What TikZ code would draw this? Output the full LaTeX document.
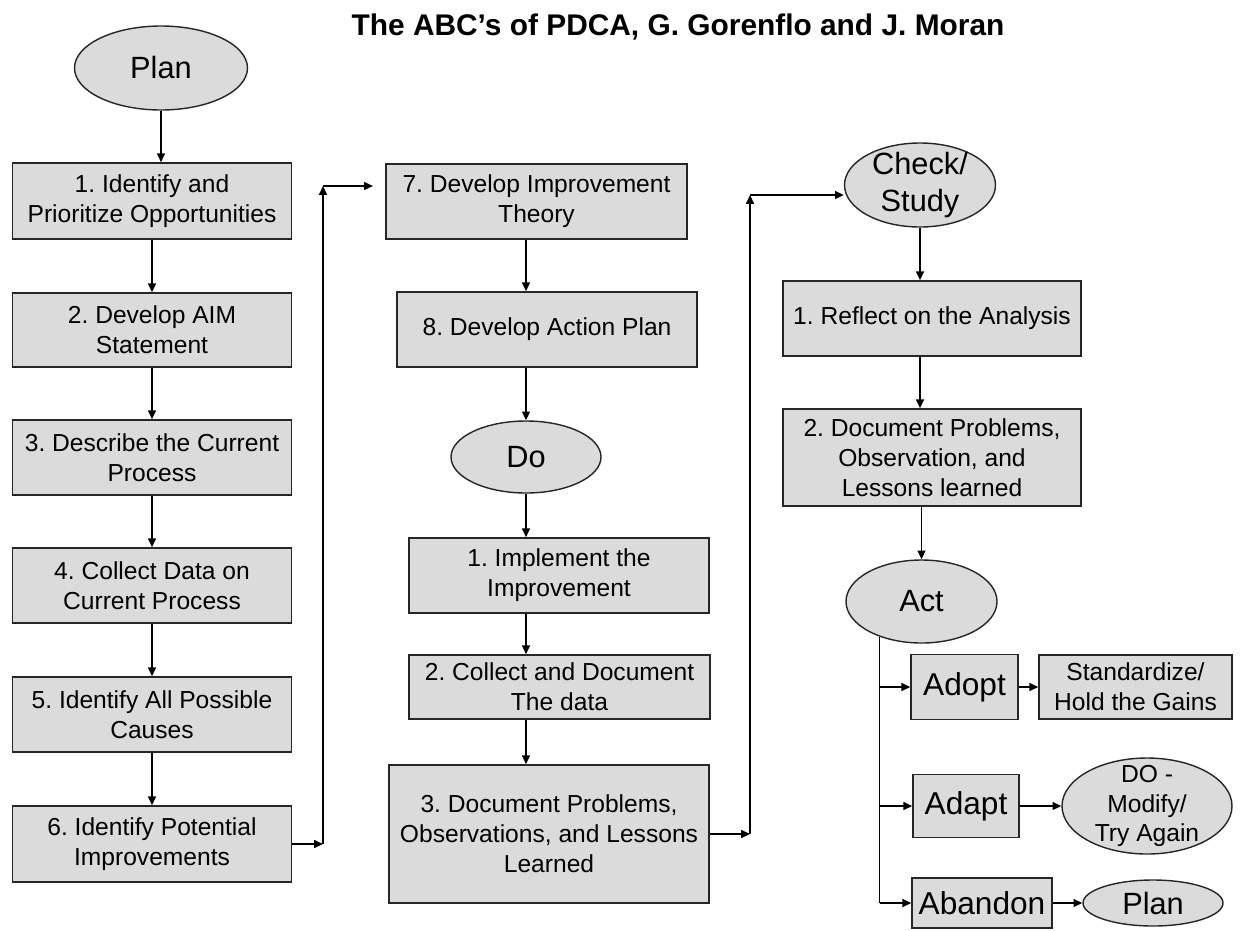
\documentclass[tikz,border=0pt]{standalone}
\usepackage{fontspec}
\setmainfont{Liberation Sans}
\usetikzlibrary{shapes.geometric}
\usetikzlibrary{arrows.meta}
\usetikzlibrary{calc}
\definecolor{boxgray}{gray}{0.86}
\frenchspacing

\begin{document}
\begin{tikzpicture}[x=0.02cm,y=-0.02cm,
    >={Triangle[length=5pt,width=4.5pt]},
    boxsize/.style 2 args={minimum width=#1*0.02cm,minimum height=#2*0.02cm},
    box/.style={draw=black!85,line width=0.9pt,fill=boxgray,align=center,inner sep=0pt,
        font=\fontsize{14}{17}\selectfont},
    phase/.style={ellipse,draw=black!85,line width=0.8pt,fill=boxgray,align=center,inner sep=-8pt,
        font=\fontsize{17.5}{21}\selectfont},
    link/.style={->,line width=0.8pt}]
    \useasboundingbox (0,0) rectangle (1243,930);
    \node (title) at (678,27) {\bfseries\fontsize{17}{20}\selectfont The ABC's of PDCA, G. Gorenflo and J. Moran};

    \node[phase, boxsize={173}{84}] (plan) at (161,68) {Plan};
    \node[box, boxsize={279}{76}] (s1) at (152,201) {1. Identify and\\Prioritize Opportunities};
    \node[box, boxsize={279}{74}] (s2) at (152,330) {2. Develop AIM\\Statement};
    \node[box, boxsize={279}{75}] (s3) at (152,457.5) {3. Describe the Current\\Process};
    \node[box, boxsize={279}{75}] (s4) at (152,585.5) {4. Collect Data on\\Current Process};
    \node[box, boxsize={279}{75}] (s5) at (152,714.5) {5. Identify All Possible\\Causes};
    \node[box, boxsize={279}{76}] (s6) at (152,844) {6. Identify Potential\\Improvements};

    \node[box, boxsize={301}{75}] (s7) at (536.5,201.5) {7. Develop Improvement\\Theory};
    \node[box, boxsize={300}{75}] (s8) at (547,329.5) {8. Develop Action Plan};
    \node[phase, boxsize={150}{72}] (do) at (526,457) {Do};
    \node[box, boxsize={300}{75}] (d1) at (559,575.5) {1. Implement the\\Improvement};
    \node[box, boxsize={301}{64}] (d2) at (559.5,687) {2. Collect and Document\\The data};
    \node[box, boxsize={320}{138}] (d3) at (549,834) {3. Document Problems,\\Observations, and Lessons\\Learned};

    \node[phase, boxsize={151}{84}] (check) at (920,185) {Check/\\Study};
    \node[box, boxsize={298}{75}] (r1) at (932,318.5) {1. Reflect on the Analysis};
    \node[box, boxsize={298}{97}] (r2) at (932,457.5) {2. Document Problems,\\Observation, and\\Lessons learned};
    \node[phase, boxsize={151}{83}] (act) at (921.5,601.5) {Act};
    \node[box, boxsize={107}{65}, font=\fontsize{18}{21}\selectfont] (adopt) at (964.5,687) {Adopt};
    \node[box, boxsize={193}{64}] (std) at (1135.5,687) {Standardize/\\Hold the Gains};
    \node[box, boxsize={106}{63}, font=\fontsize{18}{21}\selectfont] (adapt) at (966,806) {Adapt};
    \node[phase, boxsize={170}{96}, font=\fontsize{14}{17}\selectfont] (domod) at (1147,806) {DO -\\Modify/\\Try Again};
    \node[box, boxsize={140}{50}, font=\fontsize{18}{21}\selectfont] (abandon) at (982,903) {Abandon};
    \node[phase, boxsize={140}{46}] (plantwo) at (1153,903) {Plan};

    \draw[link] (plan.south) -- (plan.south |- s1.north);
    \draw[link] (s1) -- (s2);
    \draw[link] (s2) -- (s3);
    \draw[link] (s3) -- (s4);
    \draw[link] (s4) -- (s5);
    \draw[link] (s5) -- (s6);

    \coordinate (bendA) at (323,186);
    \draw[link] (s6.east) -- (s6.east -| bendA);
    \draw[link] (s6.east -| bendA) -- (bendA);
    \draw[link, shorten >=7pt] (bendA) -- (bendA -| s7.west);

    \draw[link] (s7.south -| do) -- (s8.north -| do);
    \draw[link] (s8.south -| do) -- (do);
    \draw[link] (do) -- (d1.north -| do);
    \draw[link] (d1.south -| do) -- (d2.north -| do);
    \draw[link] (d2.south -| do) -- (d3.north -| do);

    \coordinate (bendB) at (750,195);
    \draw[link] (d3.east) -- (d3.east -| bendB);
    \draw[link] (d3.east -| bendB) -- (bendB);
    \draw[link] (bendB) -- (bendB -| check.west);

    \draw[link] (check.south) -- (check.south |- r1.north);
    \draw[link] (r1.south -| check) -- (r2.north -| check);
    \draw[link] (r2.south -| act) -- (act.north);

    \coordinate (fork) at (act.220);
    \draw[line width=0.8pt] (fork) -- (fork |- abandon);
    \draw[link] (fork |- adopt) -- (adopt);
    \draw[link] (fork |- adapt) -- (adapt);
    \draw[link] (fork |- abandon) -- (abandon);
    \draw[link] (adopt) -- (std);
    \draw[link] (adapt) -- (domod);
    \draw[link] (abandon) -- (plantwo);
\end{tikzpicture}
\end{document}
